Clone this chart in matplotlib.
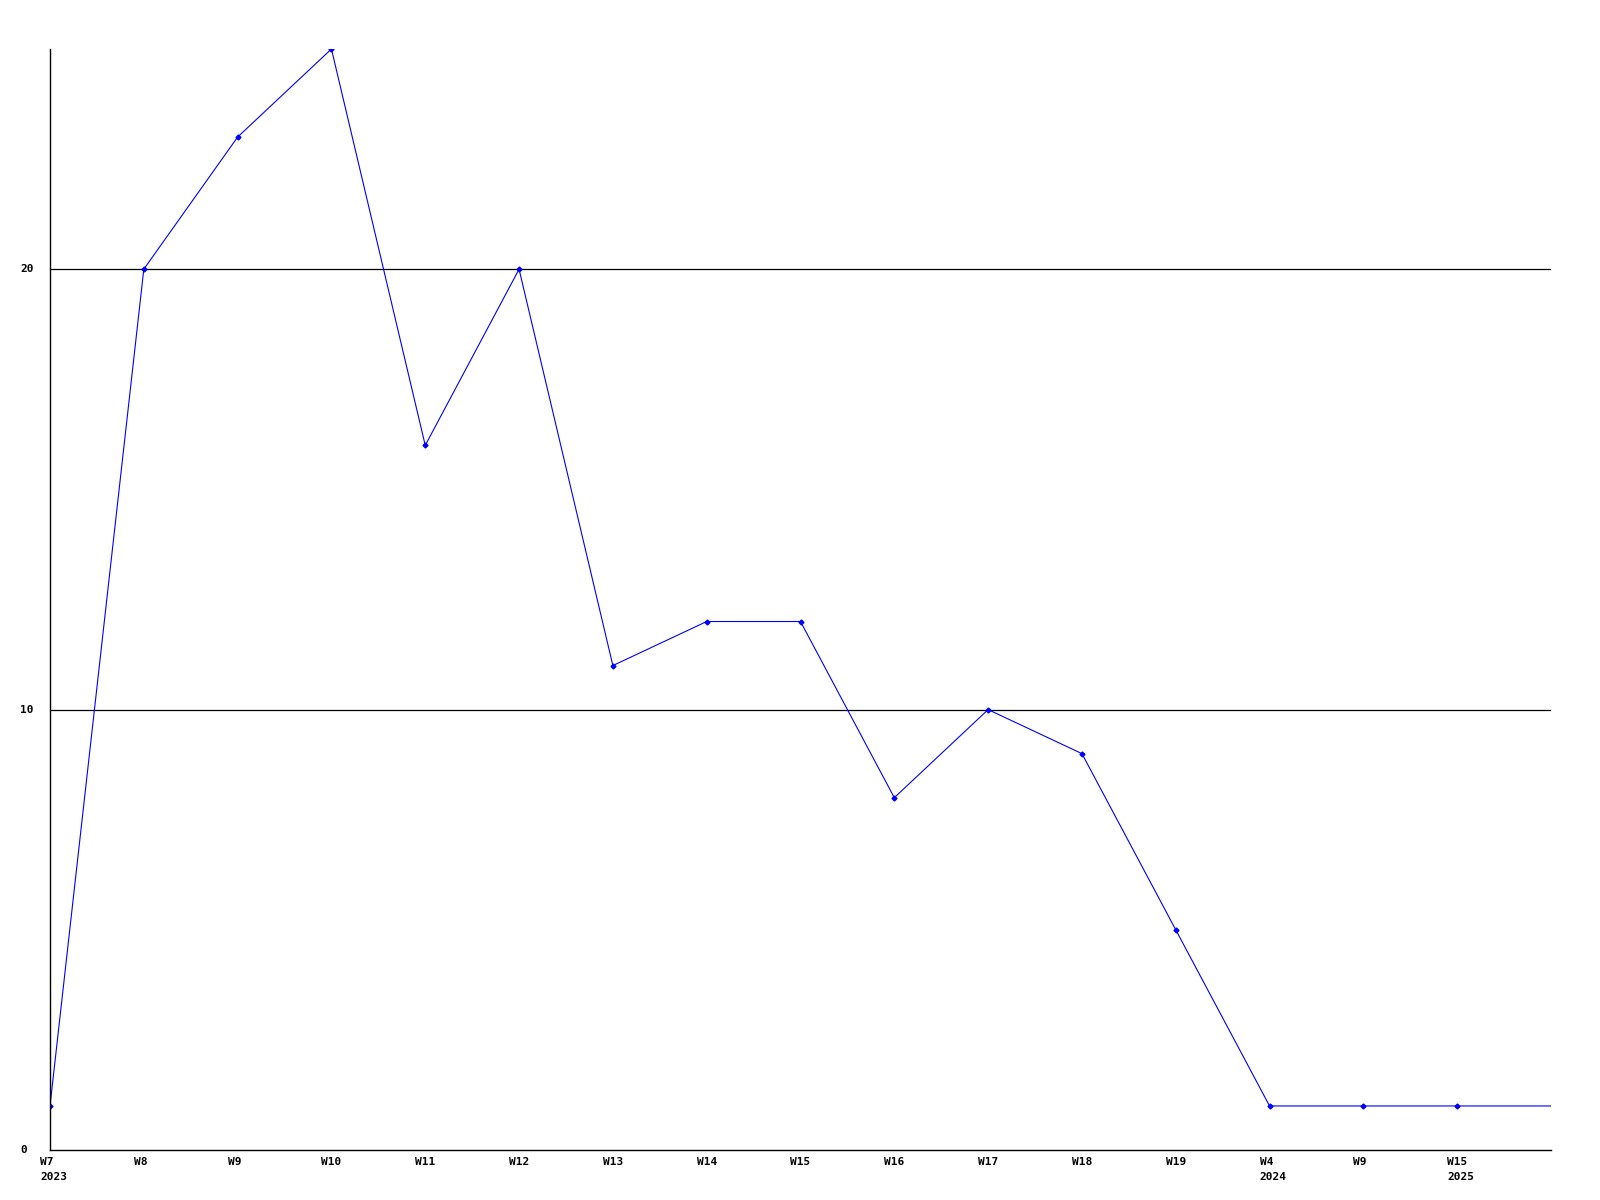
import matplotlib
matplotlib.use("Agg")
import matplotlib.pyplot as plt
import matplotlib.transforms as mtransforms

weeks = ["W7", "W8", "W9", "W10", "W11", "W12", "W13", "W14", "W15", "W16",
         "W17", "W18", "W19", "W4", "W9", "W15"]
years = {0: "2023", 13: "2024", 15: "2025"}
values = [1, 20, 23, 25, 16, 20, 11, 12, 12, 8, 10, 9, 5, 1, 1, 1]
yticks = [0, 10, 20]

fig = plt.figure(figsize=(16, 12), dpi=100)
ax = fig.add_axes([50/1600, 50/1200, 1501/1600, 1101/1200])

x = list(range(len(values)))
xend = len(values)
# line carries on to the right edge at the last value
ax.plot(x + [xend], values + [values[-1]], color="#0000ff", lw=0.8,
        marker="D", ms=2.5, markevery=list(range(len(values))))

ax.set_xlim(0, xend)
ax.set_ylim(0, 25)
for v in yticks[1:]:
    ax.axhline(v, color="black", lw=0.9, zorder=0)

for s in ["top", "right"]:
    ax.spines[s].set_visible(False)
for s in ["left", "bottom"]:
    ax.spines[s].set_linewidth(1.0)
ax.set_xticks([])
ax.set_yticks([])

font = dict(family="DejaVu Sans Mono", weight="bold", fontsize=8)
off = mtransforms.ScaledTranslation(-10/100, 0, fig.dpi_scale_trans)
tr = mtransforms.blended_transform_factory(ax.transData, fig.transFigure) + off
for i, w in enumerate(weeks):
    ax.text(i, 1 - 1162/1200, w, transform=tr, ha="left", va="center", **font)
    if i in years:
        ax.text(i, 1 - 1177/1200, years[i], transform=tr, ha="left", va="center", **font)

ytr = mtransforms.blended_transform_factory(fig.transFigure, ax.transData)
for v in yticks:
    ax.text(20/1600, v, str(v), transform=ytr, ha="left", va="center", **font)

fig.savefig("out.png", dpi=100)
